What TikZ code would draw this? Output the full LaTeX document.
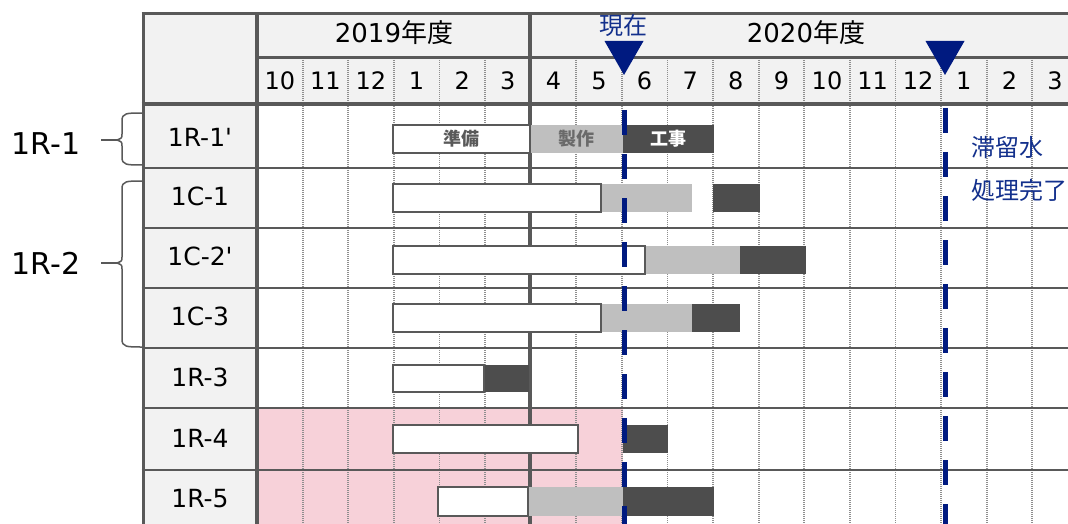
\documentclass[tikz,border=0pt]{standalone}
\usepackage{fontspec}
\setmainfont{DejaVu Sans}
\newfontfamily\jp{Noto Sans CJK JP}
\definecolor{frame}{HTML}{595959}
\definecolor{hdr}{HTML}{F2F2F2}
\definecolor{pinkbg}{HTML}{F7D1D9}
\definecolor{mfg}{HTML}{BFBFBF}
\definecolor{work}{HTML}{4D4D4D}
\definecolor{navy}{HTML}{001A80}
\definecolor{navytext}{HTML}{13308C}
\definecolor{gridgray}{HTML}{8E8E8E}
\begin{document}
\begin{tikzpicture}[x=1pt,y=-1pt,
  thick line/.style={draw=frame,line width=3pt},
  head line/.style={draw=frame,line width=4pt},
  row line/.style={draw=frame,line width=2.6pt},
  month line/.style={draw=gridgray,line width=1.8pt,dash pattern=on 1.4pt off 0.6pt},
  lbl/.style={font=\fontsize{25}{28}\selectfont,text=black,inner sep=0pt},
  grp/.style={font=\fontsize{30}{34}\selectfont,text=black,inner sep=0pt},
  mon/.style={font=\fontsize{24}{28}\selectfont,text=black,inner sep=0pt},
  yr/.style={font=\fontsize{26}{30}\selectfont,text=black,inner sep=0pt},
  bartext/.style={font=\jp\bfseries\fontsize{18}{20}\selectfont,inner sep=0pt},
  prepbar/.style={fill=white,draw=frame,line width=2pt},
  mfgbar/.style={fill=mfg},
  workbar/.style={fill=work},
  nowline/.style={draw=navy,line width=5pt,dash pattern=on 25pt off 19pt},
  marker/.style={fill=navy},
  note/.style={font=\jp\fontsize{24}{27}\selectfont,text=navytext,inner sep=0pt,anchor=west},
  bracestyle/.style={draw=frame,line width=1.5pt}]

\useasboundingbox (0,0) rectangle (1068,524);
\clip (0,0) rectangle (1068,524);

% backgrounds
\fill[hdr] (143,14) rectangle (1080,104);
\fill[hdr] (143,104) rectangle (257,532);
\fill[pinkbg] (257,408) rectangle (623,532);

% month grid (dotted)
\foreach \k in {1,2,3,4,5,7,8,9,10,11,12,13,14,15,16,17}
  \draw[month line] ({257+45.6*\k},58) -- ({257+45.6*\k},532);

% frame lines
\draw[thick line] (141.5,14) -- (1080,14);
\draw[thick line] (257,58) -- (1080,58);
\draw[head line] (141.5,104) -- (1080,104);
\foreach \y in {168,228,288,348,408,470}
  \draw[row line] (141.5,\y) -- (1080,\y);
\draw[thick line] (143,12.5) -- (143,532);
\draw[head line] (257,12.5) -- (257,532);
\draw[head line] (530,12.5) -- (530,532);

% year headers
\node[yr] (fy2019) at (394,33) {2019{\jp 年度}};
\node[yr] (fy2020) at (806,33) {2020{\jp 年度}};

% months
\foreach \m [count=\i from 0] in {10,11,12,1,2,3,4,5,6,7,8,9,10,11,12,1,2,3}
  \node[mon] (m\i) at ({257+45.6*\i+22.8},81) {\m};

% row labels
\node[lbl] (r1) at (200,137) {1R-1\textquotesingle};
\node[lbl] (r2) at (200,196) {1C-1};
\node[lbl] (r3) at (200,256) {1C-2\textquotesingle};
\node[lbl] (r4) at (200,316) {1C-3};
\node[lbl] (r5) at (200,377) {1R-3};
\node[lbl] (r6) at (200,438) {1R-4};
\node[lbl] (r7) at (200,499) {1R-5};

% bars: 1R-1'
\fill[mfgbar] (530,125) rectangle (623,153);
\fill[workbar] (623,125) rectangle (714,153);
\draw[prepbar] (393,125) rectangle (530,153);
\node[bartext,text=frame] (t1) at (461.5,139) {準備};
\node[bartext,text=frame!90] (t2) at (576,139) {製作};
\node[bartext,text=white] (t3) at (668,139) {工事};
% 1C-1
\fill[mfgbar] (601,184) rectangle (692,212);
\fill[workbar] (713,184) rectangle (760,212);
\draw[prepbar] (393,184) rectangle (601,212);
% 1C-2'
\fill[mfgbar] (645,246) rectangle (740,274);
\fill[workbar] (740,246) rectangle (806,274);
\draw[prepbar] (393,246) rectangle (645,274);
% 1C-3
\fill[mfgbar] (601,304) rectangle (692,332);
\fill[workbar] (692,304) rectangle (740,332);
\draw[prepbar] (393,304) rectangle (601,332);
% 1R-3
\fill[workbar] (484,365) rectangle (529,392);
\draw[prepbar] (393,365) rectangle (484,392);
% 1R-4
\fill[workbar] (623,425) rectangle (668,453);
\draw[prepbar] (393,425) rectangle (578,453);
% 1R-5
\fill[mfgbar] (528,487) rectangle (623,516);
\fill[workbar] (623,487) rectangle (714,516);
\draw[prepbar] (438,487) rectangle (528,516);

% milestone lines
\draw[nowline] (624,110) -- (624,532);
\draw[nowline] (945,108) -- (945,532);
\fill[marker] (604.5,41) -- (643.5,41) -- (624,75) -- cycle;
\fill[marker] (925.5,41) -- (964.5,41) -- (945,75) -- cycle;
\node[font=\jp\fontsize{24}{27}\selectfont,text=navytext,inner sep=0pt] (now) at (623,25) {現在};
\node[note] (n1) at (971,148) {滞留水};
\node[note] (n2) at (971,190) {処理完了};

% group labels and braces
\node[grp] (g1) at (46,144) {1R-1};
\node[grp] (g2) at (46,263) {1R-2};
\coordinate (b1tail) at (101,140);
\coordinate (b1tip) at (117,140);
\coordinate (b2tail) at (101,263);
\coordinate (b2tip) at (117,263);
\draw[bracestyle] (143,113) .. controls (126,113) and (122,113) .. (122,121) -- (122,134)
  .. controls (122,138) .. (b1tip) .. controls (122,142) .. (122,146) -- (122,157)
  .. controls (122,165) and (126,165) .. (143,165);
\draw[bracestyle] (b1tail) -- (b1tip);
\draw[bracestyle] (143,181) .. controls (126,181) and (122,181) .. (122,189) -- (122,257)
  .. controls (122,261) .. (b2tip) .. controls (122,265) .. (122,269) -- (122,339)
  .. controls (122,347) and (126,347) .. (143,347);
\draw[bracestyle] (b2tail) -- (b2tip);
\end{tikzpicture}
\end{document}
